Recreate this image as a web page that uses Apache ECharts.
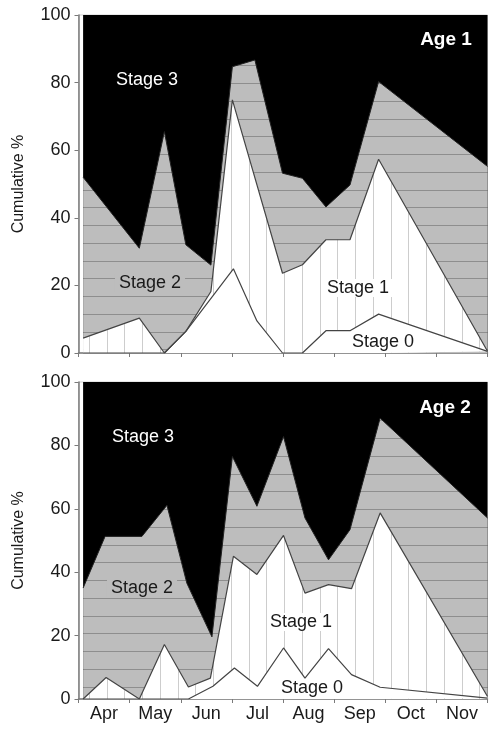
<!DOCTYPE html>
<html>
<head>
<meta charset="utf-8">
<script src="https://cdn.jsdelivr.net/npm/echarts@6/dist/echarts.min.js"></script>
<style>
  html, body { margin: 0; padding: 0; background: #fff; }
  #chart { width: 489px; height: 731px; }
</style>
</head>
<body>
<div id="chart"></div>
<script>
// x values are in months since 1 April (0 = Apr 1, 8 = Dec 1)
const MONTHS = ['Apr', 'May', 'Jun', 'Jul', 'Aug', 'Sep', 'Oct', 'Nov'];
const Y_TICKS = [0, 20, 40, 60, 80, 100];

// Age 1 -- cumulative boundaries
const age1Stage3X = [0.09, 8.0];
const age1Stage3Y = [100, 100];
const age1Stage2X = [0.09, 1.19, 1.68, 2.10, 2.59, 3.01, 3.45, 3.99, 4.38, 4.84, 5.31, 5.87, 8.0];
const age1Stage2Y = [52, 31, 65.5, 32, 26, 84.7, 86.7, 53.2, 51.7, 43.2, 49.7, 80.3, 55.2];
const age1Stage1X = [0.09, 1.19, 1.68, 2.10, 2.59, 3.01, 3.99, 4.38, 4.84, 5.31, 5.87, 8.0];
const age1Stage1Y = [4.4, 10.3, 0, 6.4, 18.2, 74.9, 23.6, 26.1, 33.5, 33.5, 57.3, 0.5];
const age1Stage0X = [0.09, 1.68, 2.10, 3.03, 3.49, 3.99, 4.38, 4.84, 5.31, 5.87, 8.0];
const age1Stage0Y = [0, 0, 6.4, 24.9, 9.5, 0, 0, 6.6, 6.6, 11.5, 0.5];

// Age 2 -- cumulative boundaries
const age2Stage3X = [0.09, 8.0];
const age2Stage3Y = [100, 100];
const age2Stage2X = [0.09, 0.52, 1.24, 1.73, 2.12, 2.61, 3.01, 3.49, 4.01, 4.43, 4.89, 5.31, 5.90, 8.0];
const age2Stage2Y = [35, 51.3, 51.3, 61.1, 36.5, 19.6, 76.5, 60.8, 82.8, 57.1, 43.9, 53.4, 88.6, 57.1];
const age2Stage1X = [0.09, 0.54, 1.19, 1.68, 2.15, 2.58, 3.03, 3.49, 4.01, 4.43, 4.89, 5.34, 5.90, 8.0];
const age2Stage1Y = [0, 6.8, 0, 17.2, 3.8, 6.6, 45, 39.3, 51.6, 33.4, 36.1, 34.8, 58.7, 0.8];
const age2Stage0X = [0.09, 2.15, 2.63, 3.05, 3.50, 4.01, 4.43, 4.89, 5.34, 5.90, 8.0];
const age2Stage0Y = [0, 0, 4.0, 9.8, 4.0, 16.1, 6.6, 15.9, 7.7, 3.7, 0.3];

const FONT = '"Liberation Sans", Arial, sans-serif';

// hatch pattern, period ~17.75px (4 periods in 71px)
function hatch(bg, lineColor, vertical, offset) {
  const c = document.createElement('canvas');
  const P = 71;
  c.width = vertical ? P : 4;
  c.height = vertical ? 4 : P;
  const ctx = c.getContext('2d');
  ctx.fillStyle = bg;
  ctx.fillRect(0, 0, c.width, c.height);
  ctx.fillStyle = lineColor;
  for (let k = 0; k < 4; k++) {
    const p = (Math.round(k * 17.75) + offset) % P;
    if (vertical) ctx.fillRect(p, 0, 1, c.height);
    else ctx.fillRect(0, p, c.width, 1);
  }
  return { image: c, repeat: 'repeat' };
}

const grayFill = hatch('#bdbdbd', '#8e8e8e', false, 12);
const whiteFill = hatch('#ffffff', '#cdcdcd', true, 0);

function area(axis, xs, ys, fill, lineColor, lineWidth) {
  return {
    type: 'line',
    xAxisIndex: axis * 2,
    yAxisIndex: axis,
    data: xs.map((x, i) => [x, ys[i]]),
    symbol: 'none',
    silent: true,
    animation: false,
    lineStyle: { color: lineColor, width: lineWidth },
    areaStyle: { color: fill, opacity: 1 }
  };
}

function panelSeries(axis, s3x, s3y, s2x, s2y, s1x, s1y, s0x, s0y) {
  return [
    area(axis, s3x, s3y, '#000', '#000', 0),
    area(axis, s2x, s2y, grayFill, '#222', 1),
    area(axis, s1x, s1y, whiteFill, '#444', 1.2),
    area(axis, s0x, s0y, '#fff', '#444', 1.2)
  ];
}

function valueX(grid) {
  return { type: 'value', gridIndex: grid, position: 'bottom', min: 0, max: 8, show: false };
}
function monthX(grid, labels) {
  return {
    type: 'category', gridIndex: grid, position: 'bottom', data: MONTHS, boundaryGap: true,
    axisLine: { lineStyle: { color: '#7a7a7a', width: 1.5 } },
    axisTick: { show: true, length: 4, lineStyle: { color: '#7a7a7a' } },
    axisLabel: { show: labels, color: '#1a1a1a', fontSize: 18, fontFamily: FONT, margin: 6 },
    splitLine: { show: false }
  };
}
function yAx(grid) {
  return {
    type: 'value', gridIndex: grid, min: Y_TICKS[0], max: Y_TICKS[Y_TICKS.length - 1], interval: 20,
    name: 'Cumulative %', nameLocation: 'middle', nameRotate: 90, nameGap: 52,
    nameTextStyle: { color: '#1a1a1a', fontSize: 16, fontFamily: FONT },
    axisLine: { show: true, lineStyle: { color: '#7a7a7a', width: 1.5 } },
    axisTick: { show: true, length: 4, lineStyle: { color: '#7a7a7a' } },
    axisLabel: { color: '#1a1a1a', fontSize: 18, fontFamily: FONT, margin: 8 },
    splitLine: { show: false }
  };
}

function label(text, x, y, opts) {
  return {
    type: 'text', x: x, y: y, z: 100, silent: true,
    style: Object.assign({
      text: text, fill: '#1a1a1a', fontSize: 18, fontFamily: FONT,
      align: 'center', verticalAlign: 'middle'
    }, opts || {})
  };
}

const chart = echarts.init(document.getElementById('chart'), null, { renderer: 'canvas' });
chart.setOption({
  animation: false,
  backgroundColor: '#fff',
  grid: [
    { left: 78.5, right: 1.5, top: 15, height: 338, show: true, borderColor: '#cfcfcf', borderWidth: 1 },
    { left: 78.5, right: 1.5, top: 382, height: 317, show: true, borderColor: '#cfcfcf', borderWidth: 1 }
  ],
  xAxis: [valueX(0), monthX(0, false), valueX(1), monthX(1, true)],
  yAxis: [yAx(0), yAx(1)],
  series: [
    ...panelSeries(0, age1Stage3X, age1Stage3Y, age1Stage2X, age1Stage2Y, age1Stage1X, age1Stage1Y, age1Stage0X, age1Stage0Y),
    ...panelSeries(1, age2Stage3X, age2Stage3Y, age2Stage2X, age2Stage2Y, age2Stage1X, age2Stage1Y, age2Stage0X, age2Stage0Y)
  ],
  graphic: [
    label('Stage 3', 147, 80, { fill: '#fff' }),
    label('Stage 2', 150, 283, { backgroundColor: '#bdbdbd', padding: [0, 4] }),
    label('Age 1', 446, 40, { fill: '#fff', fontWeight: 'bold', fontSize: 19 }),
    label('Stage 1', 358, 288, { backgroundColor: '#fff', padding: [0, 3] }),
    label('Stage 0', 383, 342, { backgroundColor: '#fff', padding: [0, 2] }),
    label('Stage 3', 143, 437, { fill: '#fff' }),
    label('Stage 2', 142, 588, { backgroundColor: '#bdbdbd', padding: [0, 4] }),
    label('Age 2', 445, 408, { fill: '#fff', fontWeight: 'bold', fontSize: 19 }),
    label('Stage 1', 301, 622, { backgroundColor: '#fff', padding: [0, 3] }),
    label('Stage 0', 312, 688, { backgroundColor: '#fff', padding: [0, 2] })
  ]
});
window.addEventListener('resize', () => chart.resize());
</script>
</body>
</html>
